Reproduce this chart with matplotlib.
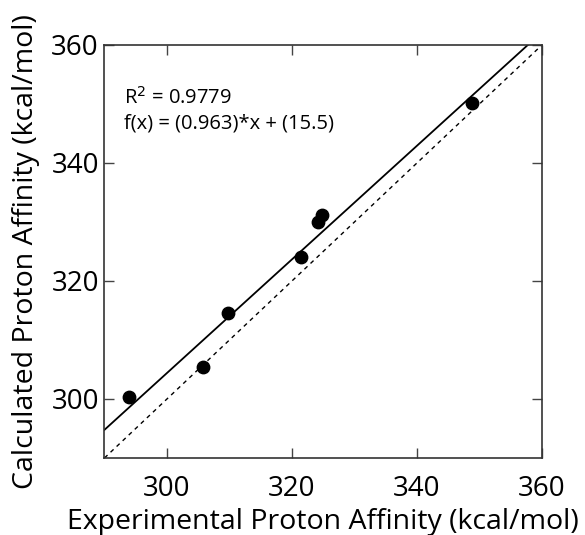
import matplotlib
matplotlib.use("Agg")
import matplotlib.pyplot as plt
import numpy as np

plt.rcParams['font.family'] = ['Open Sans', 'DejaVu Sans']

exp_pa = [293.9, 305.8, 309.8, 321.4, 324.2, 324.8, 348.8]
calc_pa = [300.4, 305.5, 314.6, 324.1, 330.0, 331.2, 350.2]
slope = 0.963
intercept = 15.5
r2 = 0.9779
xlim = (290, 360)
ticks = [300, 320, 340, 360]

fig = plt.figure(figsize=(5.85, 5.35), dpi=100)
ax = fig.add_axes([0.1786, 0.144, 0.7479, 0.772])

xx = np.array(xlim)
ax.plot(xx, xx, linestyle=(0, (3, 3)), color='black', lw=1.0)
ax.plot(xx, slope * xx + intercept, color='black', lw=1.3)
ax.scatter(exp_pa, calc_pa, s=80, color='black', zorder=3)

ax.set_xlim(xlim)
ax.set_ylim(xlim)
ax.set_xticks(ticks)
ax.set_yticks(ticks)
ax.tick_params(direction='in', top=True, right=True, length=7, width=1, labelsize=20,
               color='#444444')
ax.tick_params(axis='x', pad=12)
ax.tick_params(axis='y', pad=4)
for sp in ax.spines.values():
    sp.set_linewidth(1.2)
    sp.set_color('#333333')

ax.set_xlabel('Experimental Proton Affinity (kcal/mol)', fontsize=20.5, labelpad=4)
ax.set_ylabel('Calculated Proton Affinity (kcal/mol)', fontsize=20.5, labelpad=8)

ax.text(0.045, 0.857, f'R$^2$ = {r2}', transform=ax.transAxes, fontsize=14.5, va='baseline')
ax.text(0.045, 0.797, f'f(x) = ({slope})*x + ({intercept})', transform=ax.transAxes,
        fontsize=14.5, va='baseline')

fig.savefig('out.png', dpi=100)
